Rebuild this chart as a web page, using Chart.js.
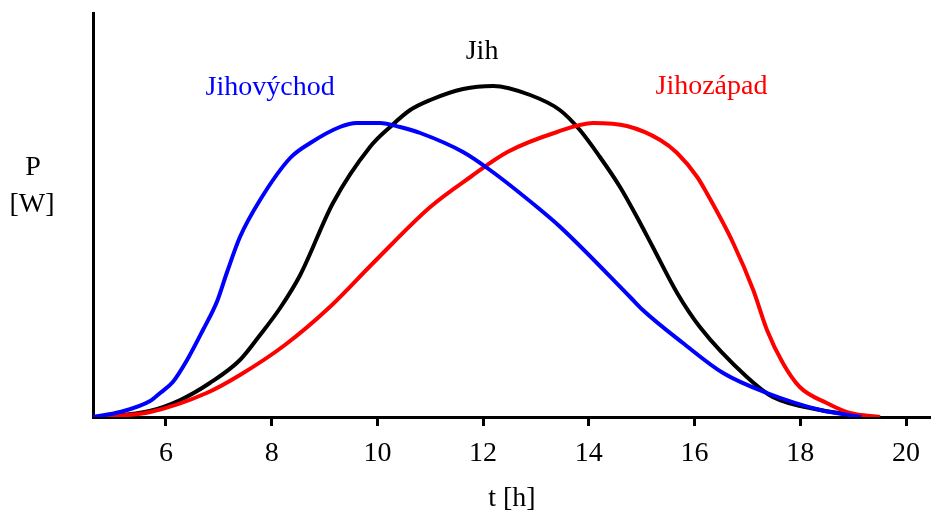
<!DOCTYPE html>
<html>
<head>
<meta charset="utf-8">
<script src="https://cdn.jsdelivr.net/npm/chart.js@4"></script>
<style>
html,body{margin:0;padding:0;background:#fff;}
canvas{display:block;}
</style>
</head>
<body>
<canvas id="c" width="931" height="514"></canvas>
<script>
// Jih (south) – black
const tJih = [4.75, 5.69, 6.27, 6.83, 7.40, 7.78, 8.16, 8.54, 9.16, 9.86, 10.24, 10.62, 11.00, 11.62, 12.19, 12.89, 13.45, 13.83, 14.21, 14.59, 14.91, 15.21, 15.67, 16.10, 16.99, 17.48, 18.38, 19.16];
const pJih = [0, 6, 17, 34, 57, 82, 109, 142, 214, 270, 290, 307, 317, 328, 331, 322, 307, 287, 260, 230, 200, 170, 124, 90, 40, 20, 7, 1];
// Jihovýchod (south-east) – blue
const tJv = [4.62, 5.13, 5.70, 5.89, 6.13, 6.40, 6.70, 6.97, 7.15, 7.40, 7.78, 8.35, 8.73, 9.29, 9.61, 10.05, 10.43, 10.81, 11.62, 12.13, 13.02, 13.46, 14.78, 15.02, 15.78, 16.54, 17.37, 18.38, 19.16];
const pJv = [0, 5, 16, 24, 35, 57, 87, 116, 144, 180, 217, 259, 274, 290, 294, 294, 290, 284, 265, 247, 210, 190, 120, 107, 74, 44, 24, 7, 0];
// Jihozápad (south-west) – red
const tJz = [4.75, 5.70, 6.77, 7.40, 8.25, 9.10, 9.92, 11.00, 11.76, 12.46, 13.40, 14.08, 14.72, 15.35, 15.67, 16.05, 16.23, 16.73, 17.11, 17.37, 17.67, 17.99, 18.50, 18.94, 19.51];
const pJz = [0, 5, 24, 42, 72, 110, 154, 210, 240, 265, 285, 294, 291, 277, 264, 240, 224, 174, 127, 87, 54, 30, 14, 4, 0];

const xTicks = [6, 8, 10, 12, 14, 16, 18, 20];
const seriesNames = ['Jih', 'Jihovýchod', 'Jihozápad'];
const xTitle = 't [h]';
const yTitle = ['P', '[W]'];

const zip = (t, p) => t.map((v, i) => ({x: v, y: p[i]}));
const FONT = '"Liberation Serif", "Times New Roman", serif';

const labelPlugin = {
  id: 'labels',
  afterDraw(chart) {
    const ctx = chart.ctx, xs = chart.scales.x, ys = chart.scales.y;
    ctx.save();
    ctx.font = '28px ' + FONT;
    ctx.textAlign = 'center';
    ctx.textBaseline = 'middle';
    const pos = [[11.98, 365, '#000000'], [7.97, 329, '#0000ff'], [16.32, 330, '#ff0000']];
    seriesNames.forEach((n, i) => {
      ctx.fillStyle = pos[i][2];
      ctx.fillText(n, xs.getPixelForValue(pos[i][0]), ys.getPixelForValue(pos[i][1]));
    });
    ctx.fillStyle = '#000';
    ctx.fillText(yTitle[0], chart.chartArea.left - 60, ys.getPixelForValue(249));
    ctx.fillText(yTitle[1], chart.chartArea.left - 61, ys.getPixelForValue(212));
    ctx.restore();
  }
};

new Chart(document.getElementById('c'), {
  type: 'line',
  data: {
    datasets: [
      {label: seriesNames[1], data: zip(tJv, pJv), borderColor: '#0000ff'},
      {label: seriesNames[2], data: zip(tJz, pJz), borderColor: '#ff0000'},
      {label: seriesNames[0], data: zip(tJih, pJih), borderColor: '#000000'}
    ]
  },
  options: {
    responsive: false,
    animation: false,
    layout: {padding: {left: 0, right: 0, top: 13, bottom: 0}},
    elements: {
      point: {radius: 0},
      line: {borderWidth: 4, cubicInterpolationMode: 'monotone', fill: false}
    },
    plugins: {legend: {display: false}, tooltip: {enabled: false}},
    scales: {
      x: {
        type: 'linear',
        min: 4.62, max: 20.47,
        afterBuildTicks: s => { s.ticks = xTicks.map(v => ({value: v})); },
        afterFit: s => { s.height = 97; },
        grid: {display: true, drawOnChartArea: false, drawTicks: true, tickLength: 9, tickWidth: 3, tickColor: '#000'},
        border: {display: true, color: '#000', width: 3},
        ticks: {color: '#000', font: {family: FONT, size: 28}, padding: 11, maxRotation: 0, autoSkip: false},
        title: {display: true, text: xTitle, color: '#000', font: {family: FONT, size: 28, lineHeight: 1.1}, padding: {top: 0, bottom: 0}}
      },
      y: {
        min: 0, max: 404,
        afterFit: s => { s.width = 93; },
        grid: {display: false, drawTicks: false},
        border: {display: true, color: '#000', width: 3},
        ticks: {display: false}
      }
    }
  },
  plugins: [labelPlugin]
});
</script>
</body>
</html>
